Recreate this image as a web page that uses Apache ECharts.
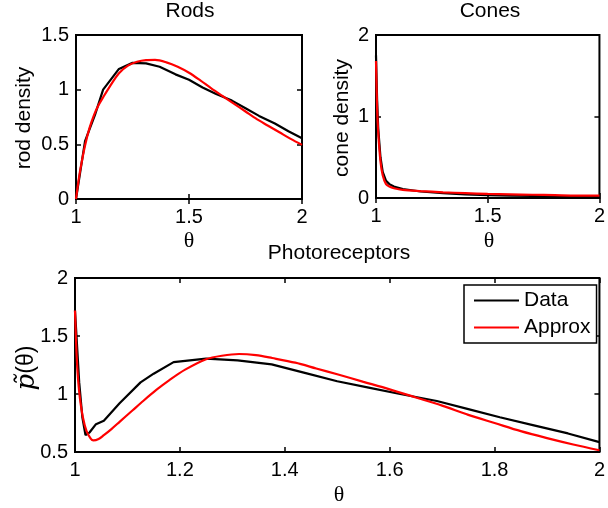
<!DOCTYPE html>
<html>
<head>
<meta charset="utf-8">
<script src="https://cdn.jsdelivr.net/npm/echarts@6/dist/echarts.min.js"></script>
<style>html,body{margin:0;padding:0;background:#fff}#c{width:608px;height:508px}</style>
</head>
<body>
<div id="c"></div>
<script>
// ---- Data ----
const rodsDataX = [1.0, 1.04, 1.084, 1.12, 1.19, 1.25, 1.31, 1.37, 1.44, 1.5, 1.56, 1.62, 1.69, 1.75, 1.81, 1.88, 1.94, 2.0];
const rodsDataY = [0.0, 0.53, 0.77, 1.0, 1.19, 1.245, 1.24, 1.21, 1.14, 1.09, 1.02, 0.96, 0.9, 0.83, 0.76, 0.69, 0.62, 0.555];
const rodsApproxX = [1.0, 1.01, 1.02, 1.04, 1.06, 1.08, 1.1, 1.12, 1.15, 1.19, 1.23, 1.27, 1.31, 1.35, 1.4, 1.45, 1.5, 1.55, 1.6, 1.65, 1.7, 1.75, 1.8, 1.85, 1.9, 1.95, 2.0];
const rodsApproxY = [0.0, 0.15, 0.28, 0.49, 0.65, 0.77, 0.86, 0.93, 1.03, 1.15, 1.22, 1.255, 1.27, 1.272, 1.25, 1.21, 1.155, 1.085, 1.01, 0.94, 0.87, 0.8, 0.73, 0.67, 0.61, 0.55, 0.495];

const conesDataX = [1.0, 1.005, 1.01, 1.02, 1.03, 1.045, 1.06, 1.08, 1.12, 1.2, 1.3, 1.4, 1.5, 1.6, 1.7, 1.8, 1.9, 2.0];
const conesDataY = [1.75, 1.2, 0.85, 0.5, 0.32, 0.21, 0.17, 0.14, 0.11, 0.08, 0.06, 0.045, 0.035, 0.03, 0.025, 0.022, 0.02, 0.02];
const conesApproxX = [1.0, 1.005, 1.01, 1.02, 1.03, 1.045, 1.06, 1.08, 1.12, 1.2, 1.3, 1.4, 1.5, 1.6, 1.7, 1.8, 1.9, 2.0];
const conesApproxY = [1.68, 1.1, 0.8, 0.45, 0.28, 0.17, 0.14, 0.12, 0.1, 0.085, 0.07, 0.06, 0.05, 0.045, 0.04, 0.035, 0.03, 0.03];

const photoDataX = [1.0, 1.008, 1.014, 1.02, 1.028, 1.04, 1.055, 1.085, 1.125, 1.15, 1.188, 1.25, 1.31, 1.375, 1.44, 1.5, 1.56, 1.62, 1.69, 1.75, 1.81, 1.875, 1.94, 2.0];
const photoDataY = [1.72, 1.1, 0.8, 0.645, 0.67, 0.74, 0.77, 0.92, 1.1, 1.175, 1.275, 1.305, 1.29, 1.255, 1.18, 1.11, 1.055, 1.0, 0.94, 0.87, 0.8, 0.73, 0.66, 0.585];
const photoApproxX = [1.0, 1.003, 1.006, 1.0095, 1.015, 1.022, 1.03, 1.035, 1.045, 1.055, 1.07, 1.085, 1.11, 1.13, 1.155, 1.18, 1.21, 1.25, 1.28, 1.313, 1.345, 1.376, 1.42, 1.46, 1.5, 1.55, 1.6, 1.65, 1.7, 1.75, 1.8, 1.85, 1.9, 1.95, 2.0];
const photoApproxY = [1.72, 1.34, 1.12, 0.96, 0.8, 0.68, 0.615, 0.6, 0.612, 0.645, 0.7, 0.76, 0.86, 0.94, 1.035, 1.12, 1.21, 1.3, 1.33, 1.345, 1.335, 1.31, 1.27, 1.22, 1.17, 1.105, 1.04, 0.97, 0.9, 0.82, 0.75, 0.68, 0.62, 0.565, 0.515];

const titles = ['Rods', 'Cones', 'Photoreceptors'];
const seriesNames = ['Data', 'Approx'];

// ---- Build ----
const zip = (xs, ys) => xs.map((x, i) => [x, ys[i]]);
const FONT = 'Liberation Sans';
const FS = 20;

const grids = [
  {left: 76, top: 35, width: 226, height: 164},
  {left: 376, top: 35, width: 230, height: 163},
  {left: 75, top: 278, width: 527, height: 174}
];
const xCfg = [
  {min: 1, max: 2, interval: 0.5},
  {min: 1, max: 2, interval: 0.5},
  {min: 1, max: 2, interval: 0.2}
];
const yCfg = [
  {min: 0, max: 1.5, interval: 0.5},
  {min: 0, max: 2, interval: 1},
  {min: 0.5, max: 2, interval: 0.5}
];

const tick = {show: true, inside: true, length: 5, lineStyle: {color: '#000', width: 1.5}};
const xAxes = [], yAxes = [];
for (let k = 0; k < 2; k++) {
  grids.forEach((g, i) => {
    xAxes.push(Object.assign({
      type: 'value', gridIndex: i, position: k === 0 ? 'bottom' : 'top',
      axisLine: {show: false}, axisTick: tick, splitLine: {show: false},
      axisLabel: {show: k === 0, color: '#000', fontFamily: FONT, fontSize: FS, margin: 8, showMaxLabel: true}
    }, xCfg[i]));
    yAxes.push(Object.assign({
      type: 'value', gridIndex: i, position: k === 0 ? 'left' : 'right',
      axisLine: {show: false}, axisTick: tick, splitLine: {show: false},
      axisLabel: {show: k === 0, color: '#000', fontFamily: FONT, fontSize: FS, margin: 7}
    }, yCfg[i]));
  });
}

const mk = (name, color, data, idx, smooth) => ({
  name, type: 'line', xAxisIndex: idx, yAxisIndex: idx, data,
  symbol: 'none', smooth: smooth ? 0.3 : false,
  lineStyle: {color, width: 2.2}, itemStyle: {color}, z: 3
});

const series = [
  mk(seriesNames[0], '#000', zip(rodsDataX, rodsDataY), 0, false),
  mk(seriesNames[1], '#ff0000', zip(rodsApproxX, rodsApproxY), 0, true),
  mk(seriesNames[0], '#000', zip(conesDataX, conesDataY), 1, false),
  mk(seriesNames[1], '#ff0000', zip(conesApproxX, conesApproxY), 1, true),
  mk(seriesNames[0], '#000', zip(photoDataX, photoDataY), 2, false),
  mk(seriesNames[1], '#ff0000', zip(photoApproxX, photoApproxY), 2, true)
];

const txt = (x, y, text, extra) => ({
  type: 'text', x, y, z: 10,
  style: Object.assign({text, fill: '#000', font: '21px "' + FONT + '"', align: 'center', verticalAlign: 'middle'}, extra || {})
});

const graphic = [
  txt(190, 11, titles[0]),
  txt(490, 11, titles[1]),
  txt(339, 253, titles[2]),
  txt(189, 241, 'θ', {font: '22px "Liberation Serif"'}),
  txt(489, 241, 'θ', {font: '22px "Liberation Serif"'}),
  txt(339, 495, 'θ', {font: '22px "Liberation Serif"'}),
  Object.assign(txt(24, 118, 'rod density'), {rotation: Math.PI / 2}),
  Object.assign(txt(342, 118, 'cone density'), {rotation: Math.PI / 2}),
  {
    type: 'text', x: 27, y: 368, rotation: Math.PI / 2, z: 10,
    style: {
      text: '{i|p\u0303}{n|(θ)}', align: 'center', verticalAlign: 'middle',
      rich: {
        i: {font: 'italic 26px "DejaVu Serif"', fill: '#000'},
        n: {font: '23px "Liberation Sans"', fill: '#000'}
      }
    }
  }
];

const chart = echarts.init(document.getElementById('c'), null, {renderer: 'canvas'});
chart.setOption({
  animation: false,
  backgroundColor: '#fff',
  grid: grids.map(g => Object.assign({show: true, borderColor: '#000', borderWidth: 2, backgroundColor: 'transparent', containLabel: false}, g)),
  xAxis: xAxes,
  yAxis: yAxes,
  legend: {
    data: seriesNames, orient: 'vertical', left: 464, top: 285,
    icon: 'rect', itemWidth: 45, itemHeight: 2, itemGap: 6,
    padding: [5, 6, 5, 10], borderColor: '#000', borderWidth: 1.5, backgroundColor: '#fff',
    textStyle: {color: '#000', fontFamily: FONT, fontSize: 21},
    selectedMode: false
  },
  series,
  graphic
});
</script>
</body>
</html>
